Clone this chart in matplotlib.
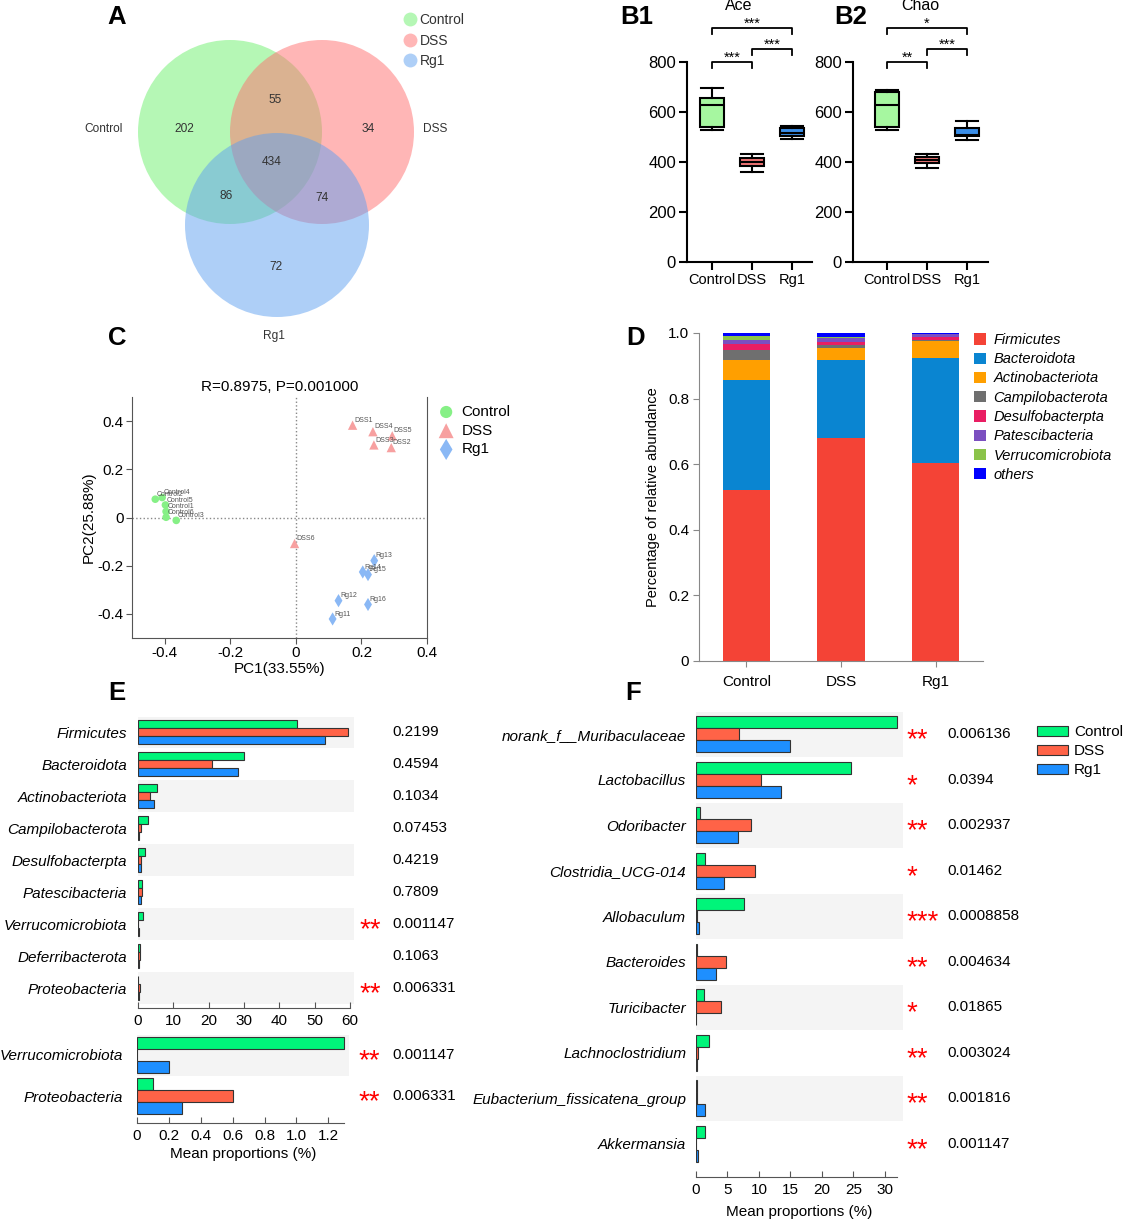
import matplotlib
matplotlib.use('Agg')
import matplotlib.pyplot as plt
from matplotlib.patches import Circle
from matplotlib.lines import Line2D
import numpy as np

plt.rcParams['font.family'] = ['Liberation Sans', 'DejaVu Sans']

W, H = 1123, 1223
fig = plt.figure(figsize=(W / 100, H / 100), dpi=100)


def px_axes(l, t, r, b):
    # axes placed by pixel box (left, top, right, bottom)
    return fig.add_axes([l / W, 1 - b / H, (r - l) / W, (b - t) / H])


def fig_xy(x, y):
    return x / W, 1 - y / H


groups = ['Control', 'DSS', 'Rg1']

# ---- A: venn counts
venn_counts = [202, 34, 72, 55, 86, 74, 434]  # C only, D only, R only, C&D, C&R, D&R, all

# ---- B: box stats (whislo, q1, med, q3, whishi)
ace_stats = [[530, 540, 630, 655, 695], [360, 383, 400, 418, 432], [492, 503, 518, 535, 545]]
chao_stats = [[530, 540, 630, 680, 690], [378, 397, 408, 420, 432], [487, 503, 507, 535, 565]]
ace_sig = ['***', '***', '***']   # Control-DSS, DSS-Rg1, Control-Rg1
chao_sig = ['**', '***', '*']

# ---- C: PCoA
ctrl_names = ['Control2', 'Control4', 'Control5', 'Control1', 'Control6', 'Control3']
ctrl_pc1 = [-0.429, -0.408, -0.398, -0.396, -0.396, -0.365]
ctrl_pc2 = [0.076, 0.083, 0.052, 0.025, 0.001, -0.012]
dss_names = ['DSS1', 'DSS4', 'DSS5', 'DSS3', 'DSS2', 'DSS6']
dss_pc1 = [0.173, 0.235, 0.294, 0.238, 0.291, -0.004]
dss_pc2 = [0.383, 0.356, 0.339, 0.301, 0.290, -0.108]
rg1_names = ['Rg13', 'Rg14', 'Rg15', 'Rg12', 'Rg16', 'Rg11']
rg1_pc1 = [0.239, 0.204, 0.220, 0.130, 0.220, 0.112]
rg1_pc2 = [-0.179, -0.226, -0.237, -0.345, -0.361, -0.421]

# ---- D: relative abundance
phyla = ['Firmicutes', 'Bacteroidota', 'Actinobacteriota', 'Campilobacterota',
         'Desulfobacterpta', 'Patescibacteria', 'Verrucomicrobiota', 'others']
abund_control = [0.520, 0.336, 0.061, 0.030, 0.020, 0.012, 0.013, 0.008]
abund_dss = [0.681, 0.236, 0.037, 0.010, 0.008, 0.013, 0.002, 0.013]
abund_rg1 = [0.604, 0.321, 0.050, 0.005, 0.008, 0.008, 0.002, 0.002]

# ---- E: phylum level mean proportions (%)
e_taxa = ['Firmicutes', 'Bacteroidota', 'Actinobacteriota', 'Campilobacterota', 'Desulfobacterpta',
          'Patescibacteria', 'Verrucomicrobiota', 'Deferribacterota', 'Proteobacteria']
e_control = [45.1, 30.0, 5.4, 2.8, 1.9, 1.1, 1.3, 0.5, 0.1]
e_dss = [59.4, 20.9, 3.4, 0.9, 0.9, 1.1, 0.0, 0.7, 0.6]
e_rg1 = [53.0, 28.3, 4.5, 0.4, 0.8, 0.9, 0.2, 0.2, 0.3]
e_pvals = ['0.2199', '0.4594', '0.1034', '0.07453', '0.4219', '0.7809', '0.001147', '0.1063', '0.006331']
e_sig = ['', '', '', '', '', '', '**', '', '**']
ez_taxa = ['Verrucomicrobiota', 'Proteobacteria']
ez_control = [1.30, 0.10]
ez_dss = [0.0, 0.60]
ez_rg1 = [0.20, 0.28]
ez_pvals = ['0.001147', '0.006331']
ez_sig = ['**', '**']

# ---- F: genus level mean proportions (%)
f_taxa = ['norank_f__Muribaculaceae', 'Lactobacillus', 'Odoribacter', 'Clostridia_UCG-014', 'Allobaculum',
          'Bacteroides', 'Turicibacter', 'Lachnoclostridium', 'Eubacterium_fissicatena_group', 'Akkermansia']
f_control = [31.9, 24.6, 0.7, 1.5, 7.7, 0.1, 1.2, 2.0, 0.1, 1.4]
f_dss = [6.8, 10.3, 8.7, 9.3, 0.1, 4.8, 3.9, 0.3, 0.2, 0.0]
f_rg1 = [14.9, 13.5, 6.6, 4.4, 0.4, 3.1, 0.0, 0.1, 1.5, 0.3]
f_pvals = ['0.006136', '0.0394', '0.002937', '0.01462', '0.0008858', '0.004634', '0.01865',
           '0.003024', '0.001816', '0.001147']
f_sig = ['**', '*', '**', '*', '***', '**', '*', '**', '**', '**']

# panel letters
for letter, x, y in [('A', 117, 17), ('B1', 637, 17), ('B2', 851, 17), ('C', 117, 338),
                     ('D', 636, 338), ('E', 117, 693), ('F', 633, 693)]:
    fig.text(*fig_xy(x, y), letter, fontsize=18.5, fontweight='bold', ha='center', va='center')

# ================= A: Venn
axA = px_axes(0, 0, 480, 350)
axA.set_xlim(0, 480)
axA.set_ylim(350, 0)
axA.axis('off')
venn_colors = ['#6cf06c', '#ff6e6e', '#5fa0f0']
for (cx, cy), c in zip([(230, 132), (322, 132), (277, 225)], venn_colors):
    axA.add_patch(Circle((cx, cy), 92, facecolor=c, alpha=0.5, edgecolor='none'))
count_pos = [(184, 129), (368, 129), (276, 267), (275, 100), (226, 196), (322, 198), (272, 162)]
for (x, y), n in zip(count_pos, venn_counts):
    axA.text(x, y, str(n), ha='center', va='center', fontsize=8.6, color='#333333')
for (x, y), name in zip([(104, 129), (435, 129), (274, 336)], groups):
    axA.text(x, y, name, ha='center', va='center', fontsize=8.6, color='#333333')
venn_handles = [Line2D([], [], ls='', marker='o', markersize=10, markeredgewidth=0,
                       markerfacecolor=c, alpha=0.5) for c in venn_colors]
axA.legend(venn_handles, groups, loc='upper left', bbox_to_anchor=fig_xy(403, 13),
           bbox_transform=fig.transFigure, frameon=False, fontsize=10, handlelength=1.0,
           handletextpad=0.2, labelspacing=0.48, borderpad=0, borderaxespad=0, labelcolor='#333333')

# ================= B: alpha diversity
box_colors = ['#a6f7a0', '#f07575', '#3a8ee8']


def draw_alpha(ax, stats, sig):
    bstats = [dict(whislo=s[0], q1=s[1], med=s[2], q3=s[3], whishi=s[4], fliers=[]) for s in stats]
    bp = ax.bxp(bstats, positions=range(3), widths=0.6, capwidths=0.55, patch_artist=True,
                showfliers=False, boxprops=dict(linewidth=1.5), whiskerprops=dict(linewidth=1.5),
                capprops=dict(linewidth=1.5), medianprops=dict(color='black', linewidth=1.5))
    for patch, c in zip(bp['boxes'], box_colors):
        patch.set_facecolor(c)
    ax.set_ylim(0, 800)
    ax.set_yticks(range(0, 801, 200))
    ax.set_xticks(range(3), groups)
    ax.tick_params(axis='both', width=1.5, length=6, labelsize=12, pad=2)
    ax.tick_params(axis='x', labelsize=10.5)
    for s in ['top', 'right']:
        ax.spines[s].set_visible(False)
    for s in ['left', 'bottom']:
        ax.spines[s].set_linewidth(1.5)
    for (a, b, y), star in zip([(0, 1, 800), (1, 2, 852), (0, 2, 936)], sig):
        ax.plot([a, a, b, b], [y - 24, y, y, y - 24], color='black', lw=1.3, clip_on=False)
        ax.text((a + b) / 2, y + 2, star, ha='center', va='baseline', fontsize=10.5)


axB1 = px_axes(687, 62, 812, 262)
draw_alpha(axB1, ace_stats, ace_sig)
axB1.set_xlim(-0.625, 2.5)
axB2 = px_axes(853, 62, 988, 262)
draw_alpha(axB2, chao_stats, chao_sig)
axB2.set_xlim(-0.85, 2.525)
fig.text(*fig_xy(739, 6), 'Ace', ha='center', va='center', fontsize=11.5)
fig.text(*fig_xy(920, 6), 'Chao', ha='center', va='center', fontsize=11.5)

# ================= C: PCoA
axC = px_axes(132, 397, 427, 638)
pc_sets = [(ctrl_names, ctrl_pc1, ctrl_pc2, 'o', '#86f086', 30),
           (dss_names, dss_pc1, dss_pc2, '^', '#f7a0a0', 45),
           (rg1_names, rg1_pc1, rg1_pc2, 'd', '#8ab8f5', 45)]
for (names, xs, ys, m, c, s), g in zip(pc_sets, groups):
    axC.scatter(xs, ys, marker=m, s=s, color=c, edgecolors='none', label=g, zorder=3)
    for nm, x, y in zip(names, xs, ys):
        axC.annotate(nm, (x, y), xytext=(1, 3.5), textcoords='offset points', fontsize=5,
                     color='#555555', va='center')
axC.axvline(0, ls=':', color='#888888', lw=1)
axC.axhline(0, ls=':', color='#888888', lw=1)
axC.set_xlim(-0.5, 0.4)
axC.set_ylim(-0.5, 0.5)
axC.set_xticks([-0.4, -0.2, 0, 0.2, 0.4], ['-0.4', '-0.2', '0', '0.2', '0.4'])
axC.set_yticks([-0.4, -0.2, 0, 0.2, 0.4], ['-0.4', '-0.2', '0', '0.2', '0.4'])
axC.spines['top'].set_visible(False)
for s in ['left', 'bottom', 'right']:
    axC.spines[s].set_color('#555555')
axC.tick_params(labelsize=11, color='#555555', length=4, pad=2)
axC.set_title('R=0.8975, P=0.001000', fontsize=11, pad=4)
axC.set_xlabel('PC1(33.55%)', fontsize=11, labelpad=1)
axC.set_ylabel('PC2(25.88%)', fontsize=11, labelpad=1)
axC.legend(loc='upper left', bbox_to_anchor=fig_xy(437, 405), bbox_transform=fig.transFigure,
           frameon=False, fontsize=11, handlelength=1.2, handletextpad=0.4, labelspacing=0.31,
           borderpad=0, borderaxespad=0, markerscale=1.6)

# ================= D: stacked bars
phylum_colors = ['#f44336', '#0a85d1', '#ff9f00', '#6f6f6f', '#e91e63', '#7b4fc0', '#8bc34a', '#0000ff']
axD = px_axes(699, 333, 983, 661)
bottoms = np.zeros(3)
for k, name in enumerate(phyla):
    vals = np.array([abund_control[k], abund_dss[k], abund_rg1[k]])
    axD.bar(range(3), vals, 0.5, bottom=bottoms, color=phylum_colors[k], label=name)
    bottoms += vals
axD.set_xlim(-0.5, 2.5)
axD.set_ylim(0, 1.0)
axD.set_yticks([0, 0.2, 0.4, 0.6, 0.8, 1.0], ['0', '0.2', '0.4', '0.6', '0.8', '1.0'])
axD.set_xticks(range(3), groups)
for s in ['top', 'right']:
    axD.spines[s].set_visible(False)
for s in ['left', 'bottom']:
    axD.spines[s].set_color('#888888')
axD.tick_params(labelsize=11, color='#888888', length=4, pad=3)
axD.tick_params(axis='x', pad=6)
axD.set_ylabel('Percentage of relative abundance', fontsize=10.5, labelpad=6)
axD.legend(loc='upper left', bbox_to_anchor=fig_xy(974, 333), bbox_transform=fig.transFigure,
           frameon=False, prop=dict(size=10.5, style='italic'), handlelength=0.82, handleheight=0.82,
           handletextpad=0.5, labelspacing=0.36, borderpad=0, borderaxespad=0)

# ================= E / F: grouped horizontal bars
bar_colors = ['#00f57a', '#ff6347', '#1e8fff']


def grouped_barh(ax, taxa, series, h, band_right, sig, pvals, star_x, p_x, ypad):
    n = len(taxa)
    pos = np.arange(n)
    for i in range(0, n, 2):
        ax.barh(i, band_right, height=1.0, color='#f4f4f4', lw=0, zorder=0)
    handles = []
    for j, vals in enumerate(series):
        handles.append(ax.barh(pos + (j - 1) * h, vals, height=h, color=bar_colors[j],
                               edgecolor='#333333', lw=0.8, zorder=2, label=groups[j]))
    ax.set_yticks(pos, taxa, fontstyle='italic')
    ax.tick_params(axis='y', length=0, labelsize=11, pad=ypad)
    ax.tick_params(axis='x', direction='in', length=4, color='#555555', labelsize=11, pad=4)
    for s in ['top', 'right', 'left']:
        ax.spines[s].set_visible(False)
    ax.spines['bottom'].set_color('#555555')
    for i in range(n):
        if sig[i]:
            ax.annotate(sig[i], (star_x, i), xytext=(0, -9.5), textcoords='offset points',
                        color='red', fontsize=20, va='baseline', ha='left', annotation_clip=False)
        ax.text(p_x, i, pvals[i], fontsize=11, va='center', ha='left')
    return handles


axE = px_axes(138, 717, 353.5, 1008)
grouped_barh(axE, e_taxa, [e_control, e_dss, e_rg1], 0.25, 61, e_sig, e_pvals, 62.8, 71.9, 8)
axE.set_xlim(0, 61)
axE.set_ylim(8.62, -0.48)
axE.set_xticks(range(0, 61, 10))
axE.spines['bottom'].set_bounds(0, 60)

axE2 = px_axes(137, 1035, 349, 1123)
grouped_barh(axE2, ez_taxa, [ez_control, ez_dss, ez_rg1], 0.29, 1.33, ez_sig, ez_pvals, 1.39, 1.60, 10)
axE2.set_xlim(0, 1.33)
axE2.set_ylim(1.64, -0.48)
axE2.set_xticks([0, 0.2, 0.4, 0.6, 0.8, 1.0, 1.2], ['0', '0.2', '0.4', '0.6', '0.8', '1.0', '1.2'])
axE2.spines['bottom'].set_bounds(0, 1.30)
axE2.set_xlabel('Mean proportions (%)', fontsize=11, labelpad=3)

axF = px_axes(696, 712, 903, 1177)
hF = grouped_barh(axF, f_taxa, [f_control, f_dss, f_rg1], 0.264, 32.9, f_sig, f_pvals, 33.5, 40.0, 7)
axF.set_xlim(0, 32.9)
axF.set_ylim(9.73, -0.49)
axF.set_xticks(range(0, 31, 5))
axF.spines['bottom'].set_bounds(0, 32)
axF.set_xlabel('Mean proportions (%)', fontsize=11, labelpad=6)
axF.legend(handles=hF, loc='upper left', bbox_to_anchor=fig_xy(1037, 725), bbox_transform=fig.transFigure,
           frameon=False, fontsize=11, handlelength=2.03, handleheight=0.65, handletextpad=0.4,
           labelspacing=0.33, borderpad=0, borderaxespad=0)

fig.savefig('out.png', dpi=100, facecolor='white')
